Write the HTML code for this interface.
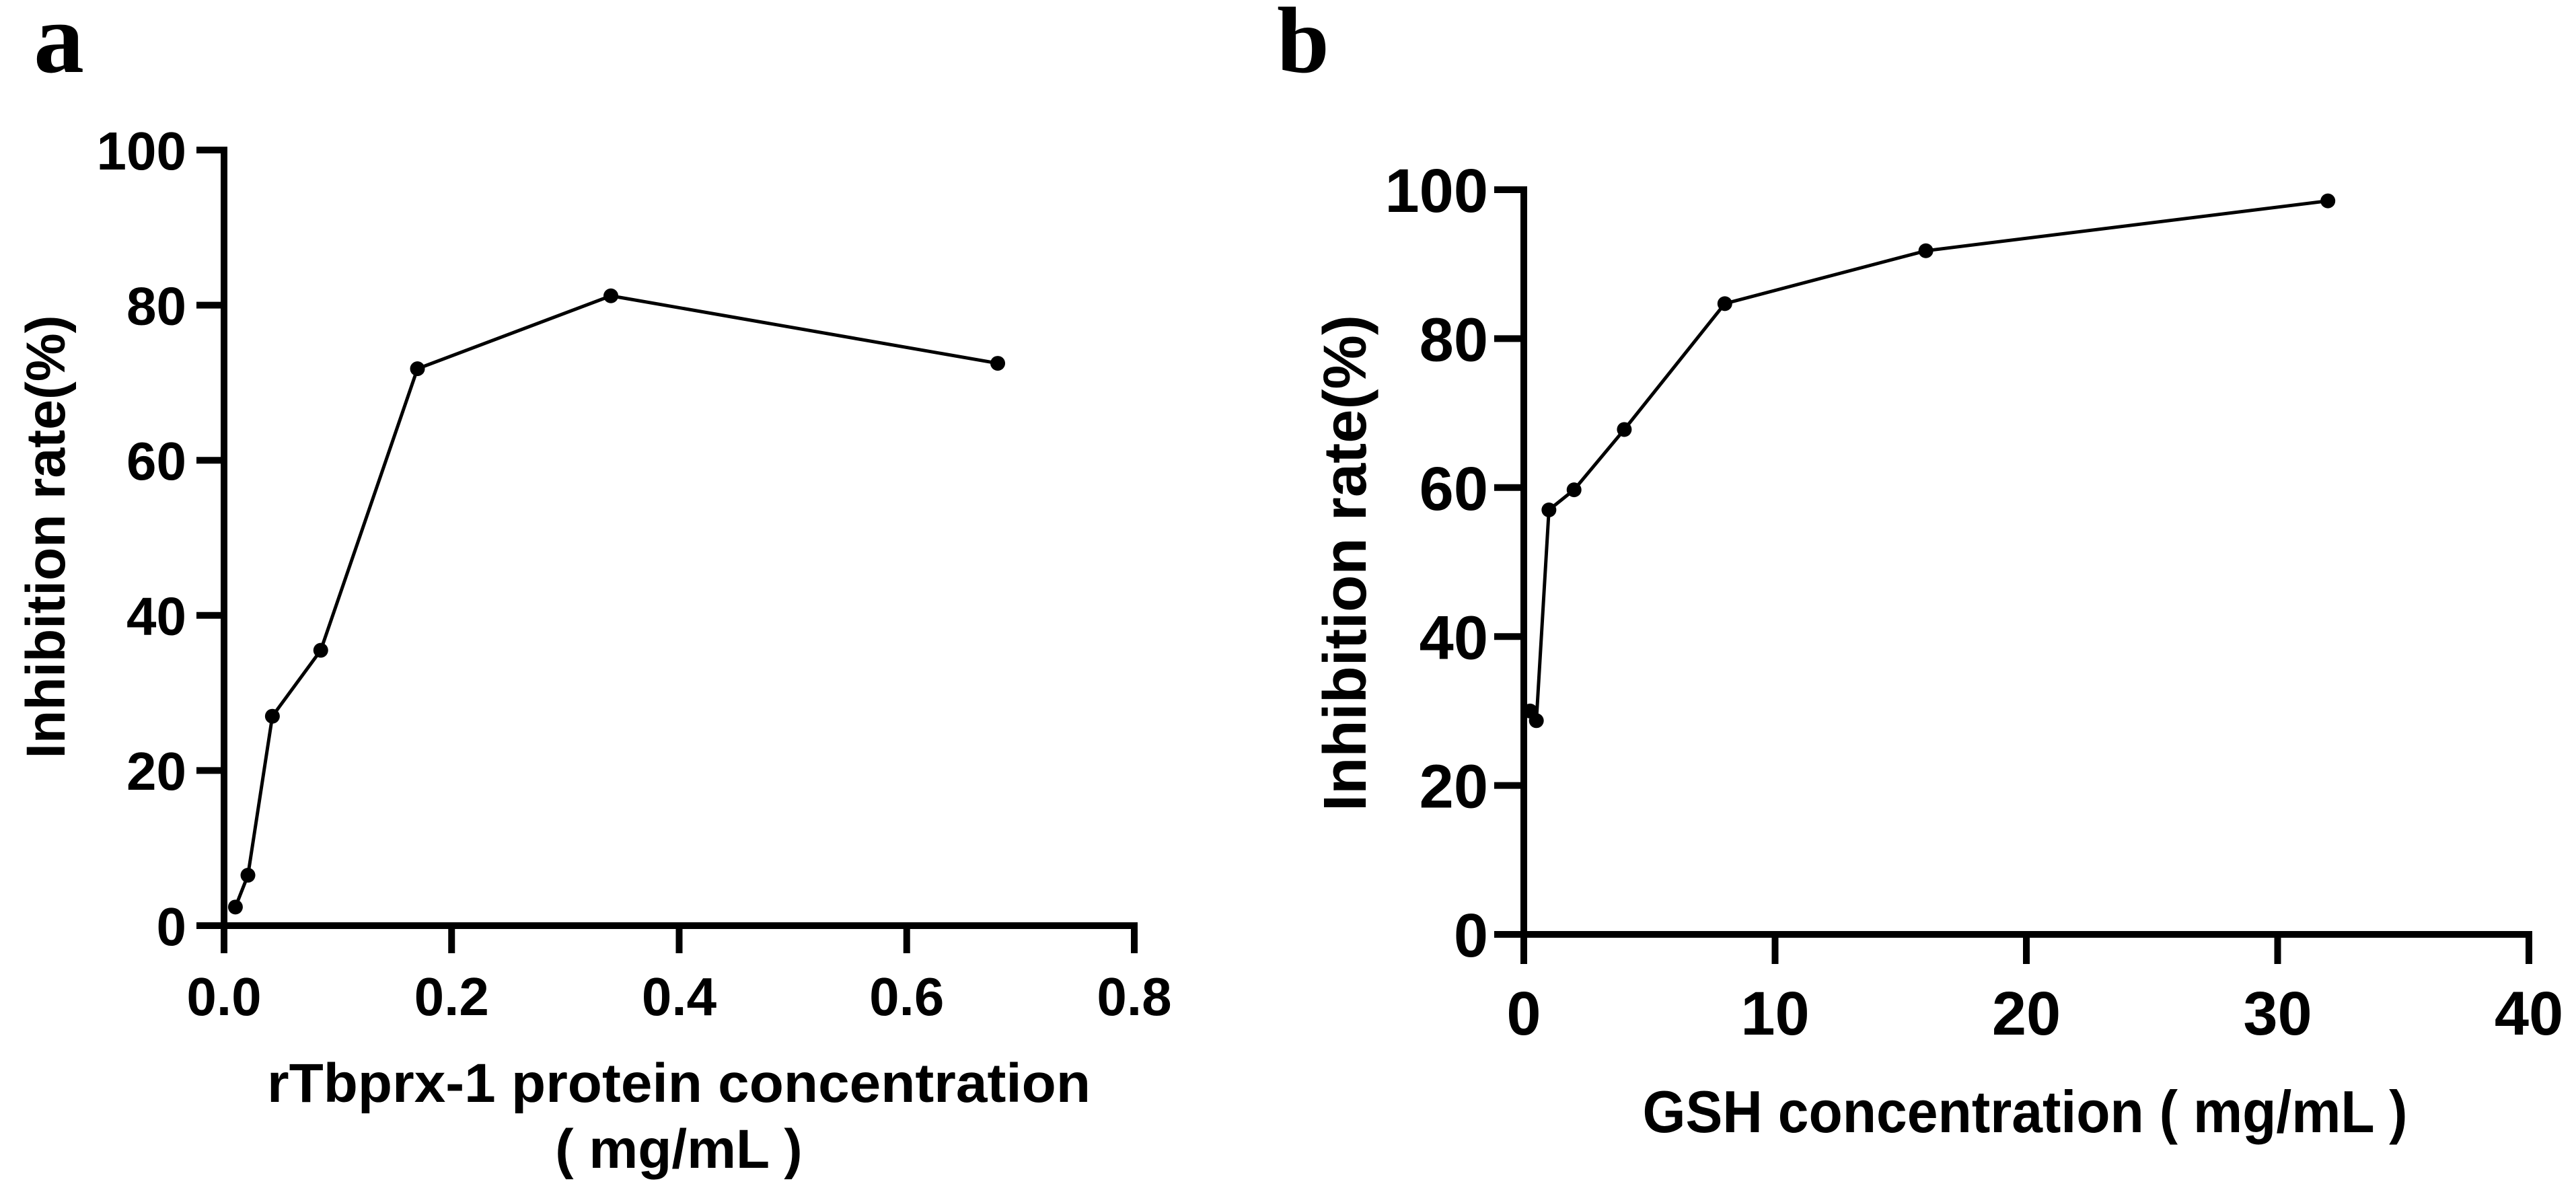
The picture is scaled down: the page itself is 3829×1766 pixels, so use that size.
<!DOCTYPE html>
<html><head><meta charset="utf-8"><style>
html,body{margin:0;padding:0;background:#fff}
svg{display:block}
text{font-family:"Liberation Sans",Arial,sans-serif;font-weight:bold;fill:#000}
</style></head><body>
<svg id="fig" width="3829" height="1766" viewBox="0 0 3829 1766" xmlns="http://www.w3.org/2000/svg">
<text x="50" y="107" style="font-family:'Liberation Serif',serif;font-size:150px">a</text>
<text x="1898" y="107" style="font-family:'Liberation Serif',serif;font-size:140px">b</text>
<g id="pa"></g>
<g id="pb"></g>
<text x="1009" y="1638" text-anchor="middle" font-size="82" textLength="1224" lengthAdjust="spacingAndGlyphs">rTbprx-1  protein concentration</text>
<text x="1009" y="1736" text-anchor="middle" font-size="82">( mg/mL )</text>
<text transform="translate(96,798) rotate(-90)" text-anchor="middle" font-size="82" textLength="659" lengthAdjust="spacingAndGlyphs">Inhibition rate(%)</text>
<text x="3010" y="1683" text-anchor="middle" font-size="88" textLength="1137" lengthAdjust="spacingAndGlyphs">GSH concentration ( mg/mL )</text>
<text transform="translate(2030,837) rotate(-90)" text-anchor="middle" font-size="90" textLength="738" lengthAdjust="spacingAndGlyphs">Inhibition rate(%)</text>
</svg>
<script>
const aX = [0.01, 0.021, 0.0425, 0.085, 0.17, 0.34, 0.68];
const aY = [2.4, 6.5, 27, 35.5, 71.8, 81.2, 72.5];
const aXTicks = [0, 0.2, 0.4, 0.6, 0.8];
const aXTickLabels = ["0.0", "0.2", "0.4", "0.6", "0.8"];
const aYTicks = [0, 20, 40, 60, 80, 100];
const bX = [0.25, 0.5, 1, 2, 4, 8, 16, 32];
const bY = [30, 28.7, 57, 59.7, 67.8, 84.7, 91.8, 98.5];
const bXTicks = [0, 10, 20, 30, 40];
const bXTickLabels = ["0", "10", "20", "30", "40"];
const bYTicks = [0, 20, 40, 60, 80, 100];

const NS = "http://www.w3.org/2000/svg";
function mk(parent, tag, attrs) {
  const e = document.createElementNS(NS, tag);
  for (const k in attrs) e.setAttribute(k, attrs[k]);
  parent.appendChild(e);
  return e;
}
function chart(g, cfg, xs, ys, xt, xtl, yt, key) {
  const sx = v => cfg.x0 + (v - cfg.xmin) / (cfg.xmax - cfg.xmin) * (cfg.x1 - cfg.x0);
  const sy = v => cfg.y0 - (v - 0) / 100 * (cfg.y0 - cfg.y1);
  const ax = mk(g, "path", {d: `M${sx(cfg.xmin)},${sy(100)-5} V${sy(0)} H${sx(cfg.xmax)+5}`, fill: "none", stroke: "#000", "stroke-width": 10, "stroke-linejoin": "miter"});
  
  
  yt.forEach(v => {
    const t = mk(g, "line", {x1: sx(cfg.xmin) - cfg.tl, x2: sx(cfg.xmin), y1: sy(v), y2: sy(v), stroke: "#000", "stroke-width": 10});
    
    
    const l = mk(g, "text", {x: cfg.ylx, y: sy(v) + cfg.yfs * 0.36, "text-anchor": "end", "font-size": cfg.yfs});
    l.textContent = String(v);
    
    
  });
  xt.forEach((v, i) => {
    const t = mk(g, "line", {x1: sx(v), x2: sx(v), y1: sy(0), y2: sy(0) + cfg.tl, stroke: "#000", "stroke-width": 10});
    
    
    const l = mk(g, "text", {x: sx(v), y: cfg.xly, "text-anchor": "middle", "font-size": cfg.xfs});
    l.textContent = xtl[i];
    
    
  });
  const pts = xs.map((v, i) => sx(v) + "," + sy(ys[i])).join(" ");
  const pl = mk(g, "polyline", {points: pts, fill: "none", stroke: "#000", "stroke-width": 5});
  
  
  xs.forEach((v, i) => {
    const c = mk(g, "circle", {cx: sx(v), cy: sy(ys[i]), r: 11, fill: "#000"});
    
    
  });
}
chart(document.getElementById("pa"), {x0: 333, x1: 1686, y0: 1376, y1: 223, xmin: 0, xmax: 0.8, tl: 41, ylx: 277, yfs: 80, xly: 1509, xfs: 80}, aX, aY, aXTicks, aXTickLabels, aYTicks, "a");
chart(document.getElementById("pb"), {x0: 2265, x1: 3759, y0: 1389, y1: 282, xmin: 0, xmax: 40, tl: 44, ylx: 2212, yfs: 92, xly: 1538, xfs: 92}, bX, bY, bXTicks, bXTickLabels, bYTicks, "b");
</script>
</body></html>
